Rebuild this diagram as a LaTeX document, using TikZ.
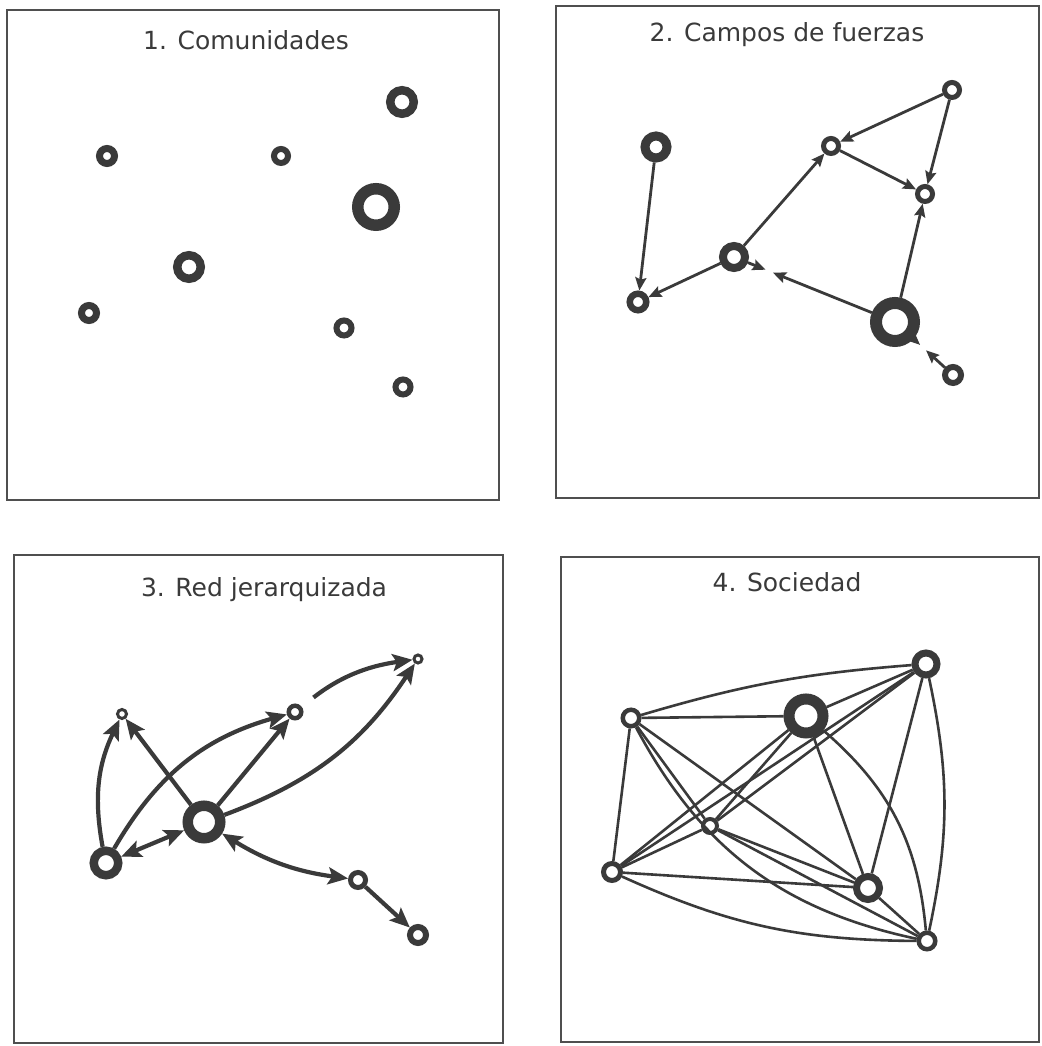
\documentclass[tikz,border=0pt]{standalone}
\usepackage{fontspec}
\setmainfont{DejaVu Sans}
\usetikzlibrary{arrows.meta,calc}
\definecolor{inkgray}{HTML}{3A3A3A}
\definecolor{framegray}{HTML}{4F4F4F}

\begin{document}
\begin{tikzpicture}[x=1pt,y=1pt,
  ring/.style 2 args={circle,draw=inkgray,fill=white,inner sep=0pt,minimum size=#1,line width=#2},
  title/.style={anchor=base,text=inkgray,font=\fontsize{25}{30}\selectfont},
  frame/.style={draw=framegray,line width=1.5pt},
  field/.style={draw=inkgray,line width=2.8pt,>={Stealth[length=13pt,width=11pt,inset=2pt]},->},
  rank/.style={draw=inkgray,line width=4.2pt,>={Stealth[length=20pt,width=17pt,inset=4pt]},->},
  tie/.style={draw=inkgray,line width=2.6pt}]
  \useasboundingbox (0,0) rectangle (1041,1046);
  \foreach \xa/\ya/\xb/\yb in {7/546/499/1036,556/548/1039/1040,14/3/503/491,561/4/1039/489}
    \draw[frame] (\xa,\ya) rectangle (\xb,\yb);
  \node[title] (t1) at (246,996) {1. Comunidades};
  \node[title] (t2) at (787,1004) {2. Campos de fuerzas};
  \node[title] (t3) at (264,449) {3. Red jerarquizada};
  \node[title] (t4) at (787,454) {4. Sociedad};

  \node[ring={15pt}{7pt}] (c1) at (107,890) {};
  \node[ring={14pt}{6pt}] (c2) at (281,890) {};
  \node[ring={23.5pt}{8.5pt}] (c3) at (402,944) {};
  \node[ring={36.5pt}{11.5pt}] (c4) at (376,839) {};
  \node[ring={23.5pt}{8.5pt}] (c5) at (189,779) {};
  \node[ring={15pt}{7pt}] (c6) at (89,733) {};
  \node[ring={15pt}{6pt}] (c7) at (344,718) {};
  \node[ring={15pt}{6pt}] (c8) at (403,659) {};

  \node[ring={22pt}{9pt}] (A) at (656,899) {};
  \node[ring={16.5pt}{6.5pt}] (B) at (638,744) {};
  \node[ring={22pt}{8pt}] (C) at (734,789) {};
  \node[ring={15pt}{5pt}] (D) at (831,900) {};
  \node[ring={15pt}{5pt}] (E) at (952,956) {};
  \node[ring={15pt}{5pt}] (F) at (925,852) {};
  \node[ring={38pt}{12pt}] (G) at (895,724) {};
  \node[ring={16pt}{6pt}] (H) at (953,671) {};
  \draw[field] (A) -- (B);
  \draw[field] (C) -- (B);
  \draw[field] (C) -- (D);
  \draw[field] (E) -- (D);
  \draw[field] (E) -- (F);
  \draw[field] (D) -- (F);
  \draw[field] (G) -- (F);
  \coordinate (cg) at ($(C)!34pt!(G)$);
  \coordinate (gh) at ($(G)!34pt!(H)$);
  \draw[field] (C) -- (cg);
  \draw[field,shorten >=27pt] (G) -- (C);
  \draw[field] (G) -- (gh);
  \draw[field,shorten >=17pt] (H) -- (G);

  \node[ring={9pt}{3pt}] (P) at (122,332) {};
  \node[ring={12.5pt}{4.5pt}] (Q) at (295,334) {};
  \node[ring={8pt}{3pt}] (R) at (418,387) {};
  \node[ring={32.5pt}{10.5pt}] (S) at (204,224) {};
  \node[ring={24.5pt}{8.5pt}] (T) at (106,183) {};
  \node[ring={15pt}{5pt}] (U) at (358,166) {};
  \node[ring={16pt}{6pt}] (V) at (418,111) {};
  \draw[rank] (T) to[bend left=18] (P);
  \draw[rank] (S) -- (P);
  \draw[rank] (T) to[bend left=22] (Q);
  \draw[rank] (S) -- (Q);
  \draw[rank] (S) to[bend right=18] (R);
  \draw[rank,shorten <=15pt] (Q) to[bend left=15] (R);
  \draw[rank,<->] (T) -- (S);
  \draw[rank,<->] (S) to[bend right=12] (U);
  \draw[rank] (U) -- (V);

  \node[ring={16.5pt}{4.5pt}] (a) at (631,328) {};
  \node[ring={34pt}{11pt}] (b) at (806,330) {};
  \node[ring={22pt}{7pt}] (c) at (926,382) {};
  \node[ring={14pt}{4pt}] (d) at (710,220) {};
  \node[ring={17pt}{5pt}] (e) at (612,174) {};
  \node[ring={23pt}{7pt}] (f) at (868,158) {};
  \node[ring={16.5pt}{4.5pt}] (g) at (927,105) {};
  \foreach \u/\v in {a/b,a/e,a/d,a/f,b/c,b/d,b/e,b/f,c/d,c/e,c/f,d/e,d/f,d/g,e/f,f/g}
    \draw[tie] (\u) -- (\v);
  \draw[tie] (a) to[bend left=6] (c);
  \draw[tie] (a) to[bend right=25] (g);
  \draw[tie] (e) to[bend right=12] (g);
  \draw[tie] (b) to[bend left=22] (g);
  \draw[tie] (c) to[bend left=12] (g);
\end{tikzpicture}
\end{document}
